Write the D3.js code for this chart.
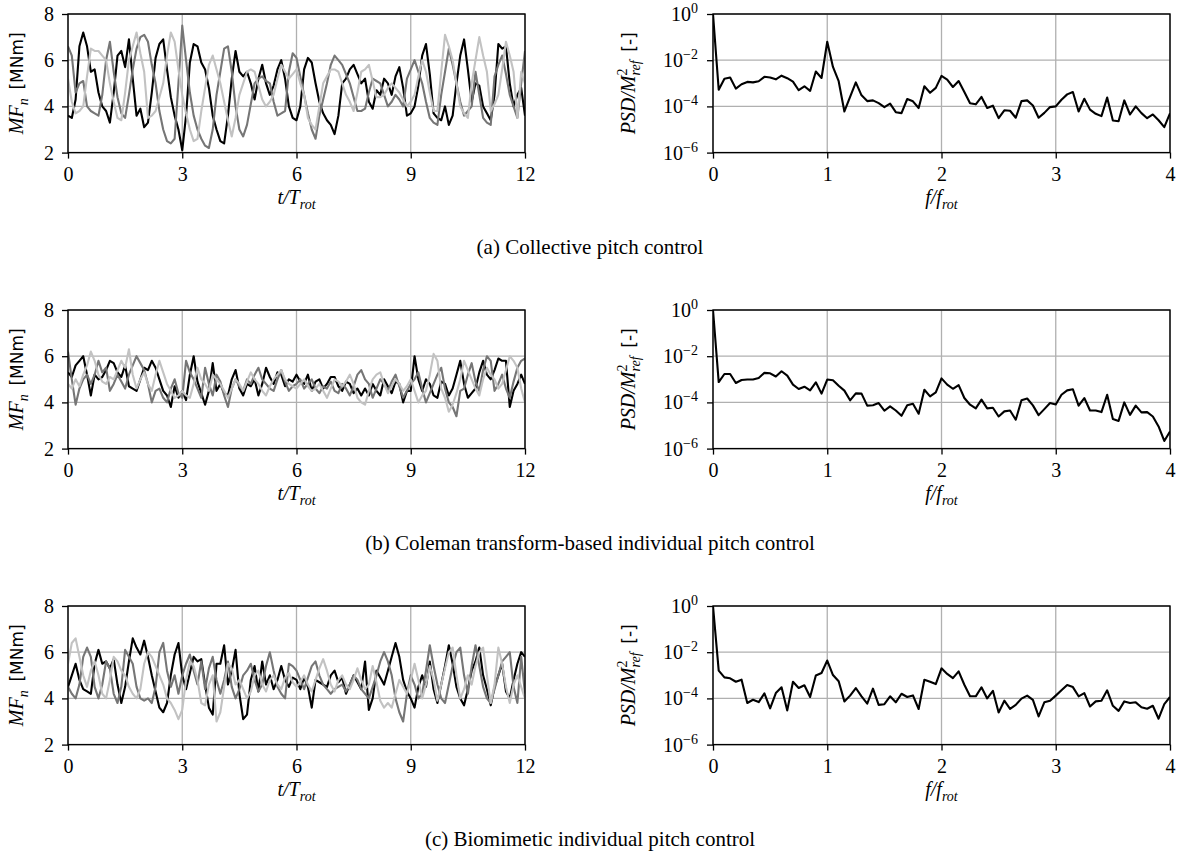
<!DOCTYPE html>
<html>
<head>
<meta charset="utf-8">
<script src="https://cdn.jsdelivr.net/npm/d3@7"></script>
<style>
  body { margin: 0; background: #fff; }
  text { font-family: "Liberation Serif", "DejaVu Serif", serif; fill: #000; }
</style>
</head>
<body>
<svg id="fig" width="1179" height="856"></svg>
<script>
// ---- data ----
const timeTicks = [0, 3, 6, 9, 12];
const momentTicks = [2, 4, 6, 8];
const freqTicks = [0, 1, 2, 3, 4];
const psdTicks = [1e-6, 1e-4, 1e-2, 1];

const captions = [
  "(a) Collective pitch control",
  "(b) Coleman transform-based individual pitch control",
  "(c) Biomimetic individual pitch control"
];

// t/T_rot sample points (every 0.1 revolution)
const tGrid = d3.range(121).map(i => i / 10);
// f/f_rot sample points (every 0.05)
const freq = d3.range(81).map(i => i / 20);

// (a) collective pitch: blade root flapwise moment [MNm], three blades
const aBlade1 = [
  3.6, 3.5, 4.3, 6.6, 7.2, 6.6, 5.5, 5.6, 4.6, 4.0,
  3.8, 3.3, 4.6, 6.2, 6.4, 5.7, 6.9, 5.2, 3.6, 3.9,
  3.1, 3.3, 4.6, 6.1, 6.7, 6.9, 5.6, 4.4, 3.6, 3.0,
  2.1, 3.6, 5.9, 6.7, 6.6, 5.9, 5.6, 4.8, 3.6, 3.0,
  2.5, 2.4, 3.6, 5.2, 6.4, 5.5, 5.3, 5.5, 5.0, 4.3,
  5.2, 5.8, 5.0, 4.5, 4.9, 5.6, 6.0, 5.2, 4.0, 3.5,
  3.4, 4.0, 5.6, 6.1, 5.9, 5.0, 4.2, 3.7, 3.4, 3.2,
  2.8, 3.6, 5.0, 5.2, 5.6, 5.8, 5.4, 5.0, 5.2, 4.2,
  3.9, 4.7, 4.5, 5.2, 5.0, 4.5, 5.3, 5.7, 4.8, 3.6,
  3.7, 4.0, 4.9, 6.2, 6.7, 5.4, 3.7, 3.5, 3.4, 4.0,
  3.2, 3.6, 5.0, 6.2, 6.9, 5.6, 4.2, 5.0, 4.9, 4.0,
  3.7, 3.4, 4.5, 6.7, 6.5, 6.6, 5.0, 4.0, 4.5, 4.8,
  3.6
];
const aBlade2 = [
  6.6, 6.2, 4.6, 5.0, 5.1, 4.0, 3.8, 3.7, 3.6, 4.5,
  6.0, 6.8, 5.5, 4.4, 3.7, 3.5, 4.5, 5.6, 6.5, 7.0,
  7.1, 6.8, 5.8, 5.0, 3.8, 3.0, 2.5, 2.4, 2.6, 5.0,
  7.5, 6.0, 4.6, 3.6, 3.0, 2.6, 2.3, 2.2, 3.0, 4.5,
  5.5, 6.5, 6.6, 5.5, 4.0, 3.0, 2.7, 3.2, 4.1, 5.0,
  5.2, 5.3, 5.1, 5.0, 4.2, 3.6, 3.7, 3.8, 5.5, 6.3,
  6.1, 5.3, 4.5, 3.7, 3.0, 2.6, 3.6, 4.3, 5.0, 5.8,
  6.2, 6.0, 5.8, 5.4, 5.0, 4.4, 3.8, 3.8, 3.9, 4.6,
  5.2, 5.1, 5.0, 4.5, 4.0, 4.2, 4.5, 4.3, 4.0, 5.2,
  5.6, 6.0, 5.5, 5.0, 4.2, 3.5, 3.3, 3.2, 4.5, 5.5,
  6.5, 5.8, 5.0, 4.2, 3.6, 3.8, 4.0, 5.5, 4.5, 3.5,
  3.3, 3.2, 5.3, 5.8, 6.2, 5.4, 4.5, 4.0, 3.5, 5.0,
  6.4
];
const aBlade3 = [
  5.2, 4.2, 3.7, 3.8, 4.0, 5.3, 6.5, 6.4, 6.4, 6.2,
  6.0, 5.0, 4.2, 3.5, 3.4, 4.6, 6.0, 6.6, 7.2, 6.3,
  5.5, 3.5, 3.6, 3.8, 4.4, 5.0, 6.2, 7.2, 6.8, 5.6,
  4.5, 3.7, 3.0, 2.5, 2.6, 3.8, 4.8, 5.8, 6.2, 5.6,
  5.0, 4.2, 3.4, 2.7, 3.5, 4.5, 5.0, 5.5, 5.6, 5.5,
  4.9, 4.3, 4.0, 4.2, 4.5, 5.2, 5.8, 5.5, 5.2, 5.4,
  5.6, 5.0, 4.5, 3.5, 3.2, 3.0, 4.0, 5.0, 5.3, 5.6,
  5.6, 5.5, 5.0, 4.5, 4.2, 3.8, 4.6, 5.5, 5.6, 5.8,
  5.1, 4.4, 4.4, 4.5, 4.8, 5.0, 4.8, 4.6, 4.3, 4.0,
  4.2, 4.5, 5.3, 6.0, 5.5, 4.6, 3.8, 3.8, 5.5, 7.1,
  6.6, 6.0, 5.0, 4.0, 3.7, 3.5, 5.0, 6.0, 7.0, 6.2,
  5.5, 3.8, 4.1, 4.5, 5.6, 6.8, 6.2, 5.5, 3.5, 5.5,
  5.0
];

// (b) Coleman transform-based IPC
const bBlade1 = [
  5.3, 5.1, 5.6, 5.8, 6.0, 5.2, 4.3, 5.2, 5.0, 5.1,
  5.4, 5.8, 5.7, 5.3, 5.1, 5.6, 4.7, 4.6, 4.5, 5.0,
  5.5, 5.4, 5.8, 5.5, 5.0, 4.5, 4.3, 3.8, 4.7, 4.2,
  4.5, 4.1, 5.2, 6.0, 4.9, 4.4, 3.9, 4.5, 5.7, 4.5,
  4.8, 4.4, 4.3, 5.0, 5.4, 4.6, 4.3, 4.8, 4.7, 5.0,
  4.3, 4.8, 5.5, 5.1, 4.8, 5.3, 5.2, 4.7, 5.0, 4.9,
  5.2, 4.9, 4.8, 5.2, 4.5, 4.9, 5.0, 4.6, 4.8, 5.1,
  5.1, 4.7, 4.5, 4.9, 4.8, 4.4, 4.6, 4.3, 4.6, 4.3,
  4.8, 4.5, 4.3, 5.0, 4.7, 4.4, 4.9, 4.8, 4.0, 4.5,
  4.5, 6.0, 5.0, 4.5, 5.0, 4.8, 4.3, 4.2, 4.9, 4.8,
  4.3, 4.6, 5.2, 5.8, 4.8, 4.2, 4.4, 4.6, 5.3, 5.8,
  5.2, 5.0, 5.4, 5.9, 5.8, 5.8, 3.8, 4.5, 4.8, 5.2,
  4.8
];
const bBlade2 = [
  6.2, 5.0, 3.9, 4.6, 5.0, 5.2, 4.8, 5.2, 5.8, 5.3,
  5.5, 4.5, 4.8, 5.2, 4.9, 4.6, 5.2, 5.6, 6.0, 5.7,
  5.4, 4.8, 4.0, 4.5, 4.6, 4.2, 4.0, 4.6, 5.0, 4.4,
  4.2, 5.8, 5.3, 5.0, 4.6, 4.2, 5.5, 4.8, 4.3, 5.2,
  4.9, 4.3, 3.8, 4.6, 5.0, 4.7, 4.5, 5.0, 4.8, 5.2,
  5.5, 5.0, 4.8, 4.6, 4.5, 5.0, 5.4, 4.9, 4.5, 4.7,
  4.8, 5.0, 4.6, 4.8, 5.0, 4.6, 4.4, 4.7, 4.6, 4.9,
  4.5, 4.4, 4.8, 4.6, 4.3, 4.7, 5.2, 5.4, 5.0, 4.8,
  4.2, 4.6, 5.0, 4.8, 4.5, 4.9, 5.2, 4.7, 4.2, 4.5,
  4.8, 5.0, 5.3, 4.6, 4.0, 4.4, 4.8, 5.2, 5.5, 4.6,
  4.0, 3.8, 3.4, 4.5, 4.6, 5.2, 5.7, 4.9, 4.5, 5.4,
  6.0, 5.8, 4.5, 4.8, 5.2, 4.6, 4.2, 4.9, 5.5, 5.8,
  5.9
];
const bBlade3 = [
  4.8, 4.6, 5.0, 4.7, 5.2, 5.6, 6.2, 5.8, 5.2, 4.9,
  4.8, 5.1, 5.0, 5.4, 5.8, 5.5, 6.3, 5.2, 4.6, 5.0,
  5.3, 4.8, 4.5, 5.2, 5.8, 5.3, 4.8, 4.5, 4.2, 4.3,
  4.5, 4.3, 4.2, 4.8, 5.5, 5.0, 4.8, 4.5, 5.2, 5.0,
  4.8, 4.5, 4.2, 4.6, 5.0, 4.8, 4.5, 4.9, 5.3, 5.0,
  4.8, 4.5, 4.3, 4.7, 5.0, 5.2, 5.4, 5.0, 4.8, 4.7,
  4.6, 4.8, 5.0, 4.7, 4.5, 4.6, 4.8, 4.5, 4.2, 4.6,
  5.0, 4.9, 4.7, 4.9, 5.2, 4.8, 4.2, 4.0, 3.9, 4.5,
  5.0, 5.2, 5.3, 4.8, 4.4, 4.7, 5.0, 4.8, 4.5, 4.7,
  5.0, 4.5, 4.0, 4.3, 4.5, 5.2, 6.1, 5.8, 4.6, 4.2,
  3.6, 3.9, 4.4, 5.0, 5.8, 5.4, 5.0, 4.6, 4.3, 5.0,
  5.5, 5.2, 5.0, 4.6, 4.8, 5.4, 6.0, 5.8, 5.5, 4.6,
  4.0
];

// (c) Biomimetic IPC
const cBlade1 = [
  4.5, 5.0, 5.5, 4.8, 4.4, 4.3, 4.2, 5.5, 6.1, 5.5,
  5.6, 5.3, 5.7, 4.6, 3.8, 4.5, 5.6, 6.6, 6.2, 5.9,
  6.5, 5.8, 5.0, 4.3, 3.6, 3.4, 3.8, 5.0, 5.9, 6.4,
  5.0, 4.4, 5.1, 5.8, 5.6, 5.7, 4.6, 3.6, 3.3, 5.5,
  5.5, 6.3, 4.6, 5.2, 6.1, 4.2, 3.1, 3.3, 4.8, 5.4,
  4.3, 5.6, 4.6, 5.0, 4.4, 4.8, 5.4, 4.8, 4.5, 4.9,
  4.8, 4.4, 4.9, 4.5, 3.6, 4.8, 4.7, 4.6, 4.5, 5.0,
  5.2, 4.7, 4.9, 4.2, 4.6, 5.0, 4.7, 4.4, 5.6, 3.5,
  4.0, 5.2, 4.9, 4.6, 5.2, 5.8, 6.4, 5.8, 4.8, 4.3,
  4.0, 3.6, 4.5, 5.0, 4.5, 5.6, 4.4, 3.8, 4.6, 5.4,
  6.3, 5.5, 4.5, 4.0, 3.7, 4.4, 5.2, 5.6, 6.2, 5.0,
  4.4, 3.7, 4.5, 5.0, 5.5, 4.3, 4.0, 4.8, 5.5, 6.0,
  5.8
];
const cBlade2 = [
  4.5, 4.2, 4.0, 4.6, 5.8, 6.2, 5.8, 4.5, 4.0, 4.6,
  5.6, 5.3, 4.2, 3.8, 4.5, 6.1, 5.8, 5.5, 4.5, 4.0,
  3.9, 4.0, 3.8, 4.5, 6.0, 6.4, 5.2, 4.5, 5.0, 4.2,
  5.0, 5.5, 5.9, 5.2, 4.6, 5.6, 4.4, 5.3, 5.8, 4.8,
  4.2, 4.8, 5.6, 4.5, 4.0, 4.4, 5.0, 5.2, 5.5, 4.8,
  4.3, 4.6, 5.4, 6.0, 5.2, 4.5, 4.2, 4.0, 5.5, 5.4,
  5.2, 4.8, 4.4, 4.9, 5.4, 5.6, 5.0, 4.6, 4.4, 4.2,
  4.4, 4.5, 4.6, 4.3, 4.6, 5.0, 4.8, 4.4, 4.2, 4.0,
  4.5, 5.0, 5.6, 6.0, 5.6, 5.0, 4.0, 3.4, 3.0, 4.2,
  5.0, 4.6, 4.0, 4.2, 5.2, 6.3, 5.4, 4.6, 4.0, 3.8,
  4.6, 5.4, 6.0, 6.2, 5.0, 4.2, 5.4, 6.3, 5.4, 4.5,
  4.0, 3.8, 4.4, 5.0, 5.6, 5.8, 6.0, 4.5, 3.8, 5.8,
  4.2
];
const cBlade3 = [
  5.5, 6.4, 6.6, 5.8, 5.0, 4.5, 5.2, 5.6, 5.0, 4.2,
  4.0, 4.8, 5.8, 5.6, 5.2, 5.0, 4.5, 4.2, 4.0, 4.4,
  5.5, 6.0, 5.8, 5.4, 5.0, 4.6, 4.0, 3.8, 3.5, 3.1,
  3.5, 4.8, 5.6, 5.4, 4.8, 3.8, 3.7, 4.6, 5.0, 3.0,
  3.4, 4.5, 5.5, 5.3, 4.6, 4.8, 4.4, 4.0, 4.3, 5.0,
  5.2, 4.6, 4.3, 4.8, 5.0, 4.6, 4.4, 4.9, 5.1, 4.7,
  4.5, 4.7, 5.0, 4.6, 4.3, 4.8, 5.3, 5.7, 5.2, 4.6,
  4.3, 4.8, 5.0, 4.6, 4.4, 4.8, 5.3, 4.8, 4.4, 4.6,
  5.4, 4.7, 3.9, 3.6, 3.8, 3.6, 4.2, 4.8, 4.5, 4.2,
  4.8, 5.5, 4.8, 4.0, 4.6, 5.4, 4.8, 3.9, 4.6, 5.3,
  6.0, 6.2, 5.0, 4.0, 4.4, 5.0, 4.6, 5.4, 6.0, 6.2,
  5.0, 3.8, 4.6, 6.2, 5.5, 4.5, 3.8, 4.6, 5.0, 4.5,
  4.0
];

// normalised PSD, stored as log10 values, f/f_rot = 0..4 in steps of 0.05
const aPsdExp = [
  0, -3.28, -2.80, -2.75, -3.23, -3.04, -2.94, -2.96, -2.91, -2.72,
  -2.75, -2.83, -2.67, -2.78, -2.93, -3.30, -3.13, -3.33, -2.49, -2.77,
  -1.20, -2.29, -2.91, -4.22, -3.59, -2.96, -3.52, -3.77, -3.74, -3.86,
  -4.03, -3.88, -4.25, -4.29, -3.68, -3.78, -4.07, -3.13, -3.41, -3.20,
  -2.68, -2.84, -3.16, -2.90, -3.38, -3.86, -3.91, -3.59, -4.07, -3.97,
  -4.51, -4.17, -4.19, -4.49, -3.77, -3.74, -3.96, -4.49, -4.28, -4.03,
  -4.00, -3.71, -3.48, -3.38, -4.22, -3.67, -4.14, -4.32, -4.42, -3.62,
  -4.61, -4.64, -3.74, -4.35, -4.00, -4.29, -4.51, -4.35, -4.60, -4.90,
  -4.30
];
const bPsdExp = [
  0, -3.12, -2.77, -2.77, -3.16, -3.03, -3.01, -3.01, -2.94, -2.72,
  -2.74, -2.88, -2.65, -2.84, -3.23, -3.42, -3.32, -3.48, -3.13, -3.62,
  -3.01, -3.04, -3.28, -3.49, -3.91, -3.61, -3.62, -4.14, -4.12, -4.03,
  -4.36, -4.17, -4.35, -4.58, -4.12, -4.06, -4.49, -3.45, -3.74, -3.57,
  -2.96, -3.23, -3.41, -3.25, -3.81, -4.10, -4.26, -3.88, -4.26, -4.23,
  -4.61, -4.39, -4.35, -4.75, -3.91, -3.83, -4.13, -4.55, -4.29, -4.03,
  -4.09, -3.67, -3.48, -3.43, -4.14, -3.81, -4.35, -4.35, -4.42, -3.67,
  -4.72, -4.80, -4.00, -4.54, -4.14, -4.43, -4.42, -4.61, -5.04, -5.67,
  -5.26
];
const cPsdExp = [
  0, -2.80, -3.09, -3.13, -3.28, -3.19, -4.20, -4.06, -4.16, -3.78,
  -4.43, -3.77, -3.52, -4.52, -3.28, -3.55, -3.43, -3.94, -3.01, -2.90,
  -2.36, -2.99, -3.26, -4.13, -3.88, -3.55, -3.91, -4.23, -3.58, -4.28,
  -4.25, -3.91, -4.17, -3.80, -3.94, -3.87, -4.46, -3.19, -3.28, -3.38,
  -2.70, -2.94, -3.12, -2.83, -3.41, -3.91, -3.91, -3.52, -4.00, -3.67,
  -4.61, -4.10, -4.45, -4.28, -4.01, -3.88, -4.06, -4.78, -4.17, -4.10,
  -3.88, -3.65, -3.42, -3.51, -3.91, -3.77, -4.35, -4.13, -4.10, -3.65,
  -4.32, -4.54, -4.13, -4.20, -4.17, -4.38, -4.45, -4.32, -4.88, -4.25,
  -3.94
];

const bladeColors = ["#000000", "#767676", "#c2c2c2"];

const rows = [
  { blades: [aBlade1, aBlade2, aBlade3], psd: aPsdExp, caption: captions[0] },
  { blades: [bBlade1, bBlade2, bBlade3], psd: bPsdExp, caption: captions[1] },
  { blades: [cBlade1, cBlade2, cBlade3], psd: cPsdExp, caption: captions[2] }
];

// ---- layout ----
const W = 457, H = 138.6;
const leftX = 68, rightX = 713;
const rowTop = [14, 310, 606];
const tickFont = 20;
const gridColor = "#b0b0b0";

const svg = d3.select("#fig");

function styleAxis(g) {
  g.select(".domain").remove();
  g.selectAll(".tick line").attr("stroke", "#000").attr("stroke-width", 1.3);
  g.selectAll(".tick text")
    .attr("font-size", tickFont)
    .attr("font-family", "'Liberation Serif', serif");
}

function clip(g, id) {
  g.append("clipPath").attr("id", id)
    .append("rect").attr("width", W).attr("height", H);
}

function grid(g, xs, ys, xv, yv) {
  g.append("g").selectAll("line").data(xv).join("line")
    .attr("x1", d => xs(d)).attr("x2", d => xs(d))
    .attr("y1", 0).attr("y2", H)
    .attr("stroke", gridColor).attr("stroke-width", 1.3);
  g.append("g").selectAll("line").data(yv).join("line")
    .attr("y1", d => ys(d)).attr("y2", d => ys(d))
    .attr("x1", 0).attr("x2", W)
    .attr("stroke", gridColor).attr("stroke-width", 1.3);
}

function spines(g) {
  g.append("rect").attr("width", W).attr("height", H)
    .attr("fill", "none").attr("stroke", "#000").attr("stroke-width", 1.4);
}

function xLabel(g, main) {
  const t = g.append("text").attr("x", W / 2).attr("y", H + 51)
    .attr("text-anchor", "middle").attr("font-size", 20).attr("font-style", "italic");
  t.append("tspan").text(main);
  t.append("tspan").attr("font-size", 14).attr("dy", 5).text("rot");
}

function timePanel(g, row, r) {
  const x = d3.scaleLinear().domain([0, 12]).range([0, W]);
  const y = d3.scaleLinear().domain([2, 8]).range([H, 0]);
  clip(g, "clipT" + r);
  grid(g, x, y, timeTicks, momentTicks);

  const line = d3.line().x(d => x(d[0])).y(d => y(d[1]));
  const plot = g.append("g").attr("clip-path", `url(#clipT${r})`);
  row.blades.forEach((vals, k) => {
    plot.append("path")
      .datum(vals.map((v, i) => [tGrid[i], v]))
      .attr("d", line)
      .attr("fill", "none")
      .attr("stroke", bladeColors[k])
      .attr("stroke-width", 2.1)
      .attr("stroke-linejoin", "round");
  });
  spines(g);

  g.append("g").attr("transform", `translate(0,${H})`)
    .call(d3.axisBottom(x).tickValues(timeTicks).tickSize(6).tickPadding(8).tickFormat(d3.format("d")))
    .call(styleAxis);
  g.append("g")
    .call(d3.axisLeft(y).tickValues(momentTicks).tickSize(6).tickPadding(8).tickFormat(d3.format("d")))
    .call(styleAxis);

  xLabel(g, "t/T");

  // y label: MF_n [MNm]
  const yl = g.append("text")
    .attr("transform", `translate(${-45},${H / 2}) rotate(-90)`)
    .attr("text-anchor", "middle").attr("font-size", 20);
  yl.append("tspan").attr("font-style", "italic").text("MF");
  yl.append("tspan").attr("font-style", "italic").attr("font-size", 14).attr("dy", 5).text("n");
  yl.append("tspan").attr("dy", -5).attr("font-family", "'DejaVu Sans', sans-serif")
    .attr("font-size", 17).text("\u2009 [MNm]");
}

function psdPanel(g, row, r) {
  const x = d3.scaleLinear().domain([0, 4]).range([0, W]);
  const y = d3.scaleLog().domain([1e-6, 1]).range([H, 0]);
  clip(g, "clipP" + r);
  grid(g, x, y, freqTicks, psdTicks);

  const line = d3.line().x(d => x(d[0])).y(d => y(d[1]));
  g.append("g").attr("clip-path", `url(#clipP${r})`)
    .append("path")
    .datum(row.psd.map((e, i) => [freq[i], Math.pow(10, e)]))
    .attr("d", line)
    .attr("fill", "none")
    .attr("stroke", "#000")
    .attr("stroke-width", 2.1)
    .attr("stroke-linejoin", "round");
  spines(g);

  g.append("g").attr("transform", `translate(0,${H})`)
    .call(d3.axisBottom(x).tickValues(freqTicks).tickSize(6).tickPadding(8).tickFormat(d3.format("d")))
    .call(styleAxis);
  const ya = g.append("g")
    .call(d3.axisLeft(y).tickValues(psdTicks).tickSize(6).tickPadding(9).tickFormat(() => ""))
    .call(styleAxis);
  ya.selectAll(".tick text").each(function (d) {
    const t = d3.select(this);
    const e = Math.round(Math.log10(d));
    t.append("tspan").text("10");
    t.append("tspan").attr("font-size", 14).attr("dy", -8)
      .text(e < 0 ? "\u2212" + (-e) : String(e));
  });

  xLabel(g, "f/f");

  // y label: PSD/M^2_ref [-]
  const yl = g.append("text")
    .attr("transform", `translate(${-78},${H / 2}) rotate(-90)`)
    .attr("text-anchor", "middle").attr("font-size", 20);
  yl.append("tspan").attr("font-style", "italic").text("PSD/M");
  yl.append("tspan").attr("font-size", 14).attr("dy", -8).text("2");
  yl.append("tspan").attr("font-style", "italic").attr("font-size", 14)
    .attr("dx", -7).attr("dy", 13).text("ref");
  yl.append("tspan").attr("dy", -5).attr("font-family", "'DejaVu Sans', sans-serif")
    .attr("font-size", 17).text("\u2009 [-]");
}

rows.forEach((row, r) => {
  const top = rowTop[r];
  timePanel(svg.append("g").attr("transform", `translate(${leftX},${top})`), row, r);
  psdPanel(svg.append("g").attr("transform", `translate(${rightX},${top})`), row, r);
  svg.append("text")
    .attr("x", 590).attr("y", top + 240)
    .attr("text-anchor", "middle").attr("font-size", 21)
    .text(row.caption);
});
</script>
</body>
</html>
